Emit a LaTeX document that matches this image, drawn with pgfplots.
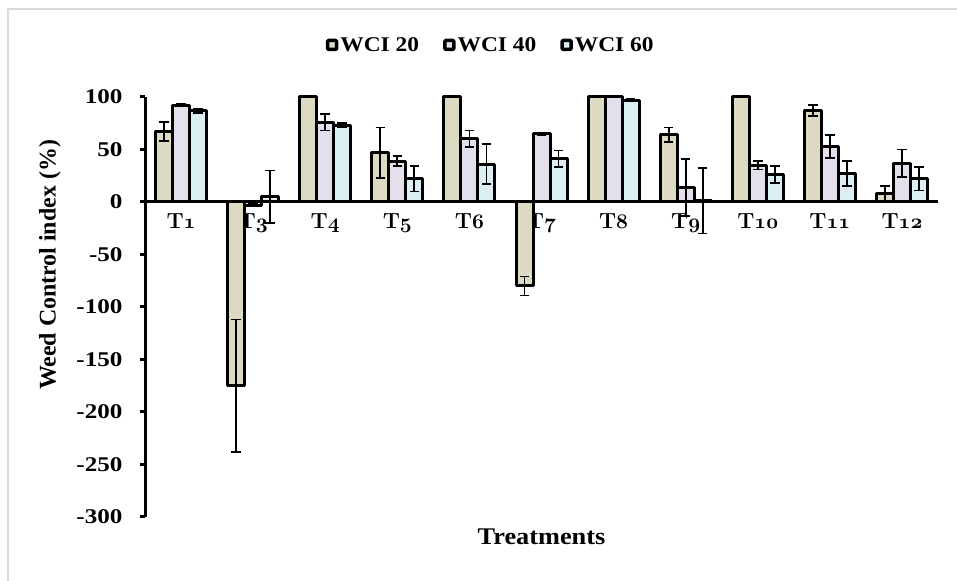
\documentclass[border=0pt]{standalone}
\usepackage{graphicx}
\usepackage{pgfplots}
\pgfplotsset{compat=1.18}
\usepackage{pgfplotstable}
\usepackage{fontspec}
\newfontfamily\tnr{Liberation Serif}
\definecolor{cA}{HTML}{DDD9C3}
\definecolor{cB}{HTML}{E4DFEC}
\definecolor{cC}{HTML}{DAEEF3}
\definecolor{frame}{HTML}{D9D9D9}
\newcommand{\TL}[1]{\bfseries T{\usefont{OML}{cmm}{b}{it}#1}}
\newcommand{\sx}[1]{\scalebox{1.2}[1]{#1}}
\newcommand{\slg}[1]{\scalebox{1.12}[1]{#1}}
\pgfplotstableread{
x a ea b eb c ec
0 67 9 92 1 87 2
1 -175 63 -3 1 5 25
2 100 0 76 8 73 2
3 47 24 39 5 22 12
4 100 0 60 8 36 19
5 -80 9 65 1 41 8
6 100 0 100 0 97 1
7 64 7 14 27 1 31
8 100 0 35 4 26 8
9 87 5 53 11 27 12
10 8 7 37 13 22 11
}\data
\begin{document}
\begin{tikzpicture}
\useasboundingbox (0,0) rectangle (957bp,581bp);
\draw[frame, line width=1.5bp] (8bp,0) -- (8bp,572bp) -- (957bp,572bp);
\begin{axis}[
  at={(145bp,64bp)}, anchor=south west,
  scale only axis, width=793bp, height=420bp,
  clip=false,
  xmin=-0.5, xmax=10.5, ymin=-300, ymax=100,
  axis x line=middle, axis y line=left,
  hide obscured x ticks=false, hide obscured y ticks=false,
  axis line style={line width=3bp, -},
  ybar=0pt, bar width=17bp,
  xtick={0,...,10},
  xticklabels={\TL{1},\TL{3},\TL{4},\TL{5},\TL{6},\TL{7},\TL{8},\TL{9},\TL{10},\TL{11},\TL{12}},
  x tick style={draw=none},
  xticklabel style={font=\fontsize{22}{24}\selectfont, anchor=north, yshift=-3bp},
  ytick={-300,-250,-200,-150,-100,-50,0,50,100},
  yticklabels={\sx{-300},\sx{-250},\sx{-200},\sx{-150},\sx{-100},\sx{-50},\sx{0},\sx{50},\sx{100}},
  yticklabel style={font=\tnr\bfseries\fontsize{21}{24}\selectfont, xshift=-14bp},
  y tick style={line width=3bp, black},
  tick align=outside, major tick length=5bp,
  ytick pos=left,
  ylabel={\tnr\bfseries Weed Control index (\%)},
  ylabel style={font=\fontsize{24}{28}\selectfont, at={(axis description cs:-0.12,0.6)}, anchor=center, rotate=0},
  xlabel={\tnr\bfseries \scalebox{1.1}[1]{Treatments}},
  xlabel style={font=\fontsize{24}{28}\selectfont, at={(axis description cs:0.5,0)}, anchor=north, yshift=-8bp},
  legend style={at={(axis description cs:0.436,1.124)}, anchor=center, draw=none, fill=none,
    legend columns=3, font=\tnr\bfseries\fontsize{21}{24}\selectfont,
    /tikz/every even column/.append style={column sep=22bp}},
  error bars/y dir=both, error bars/y explicit,
  error bars/error bar style={line width=1.8bp, black},
  error bars/error mark options={rotate=90, mark size=4.8bp, line width=1.8bp, black},
  leg/.style={legend image code/.code={\draw[fill=#1, draw=black, line width=3.5bp, rounded corners=1bp] (0bp,-4.5bp) rectangle (9bp,4.5bp);}},
]
\addplot[fill=cA, draw=black, line width=3bp, line join=round, leg=cA] table[x=x, y=a, y error=ea]{\data};
\addplot[fill=cB, draw=black, line width=3bp, line join=round, leg=cB] table[x=x, y=b, y error=eb]{\data};
\addplot[fill=cC, draw=black, line width=3bp, line join=round, leg=cC] table[x=x, y=c, y error=ec]{\data};
\legend{\slg{WCI 20}, \slg{WCI 40}, \slg{WCI 60}}
\end{axis}
\end{tikzpicture}
\end{document}
